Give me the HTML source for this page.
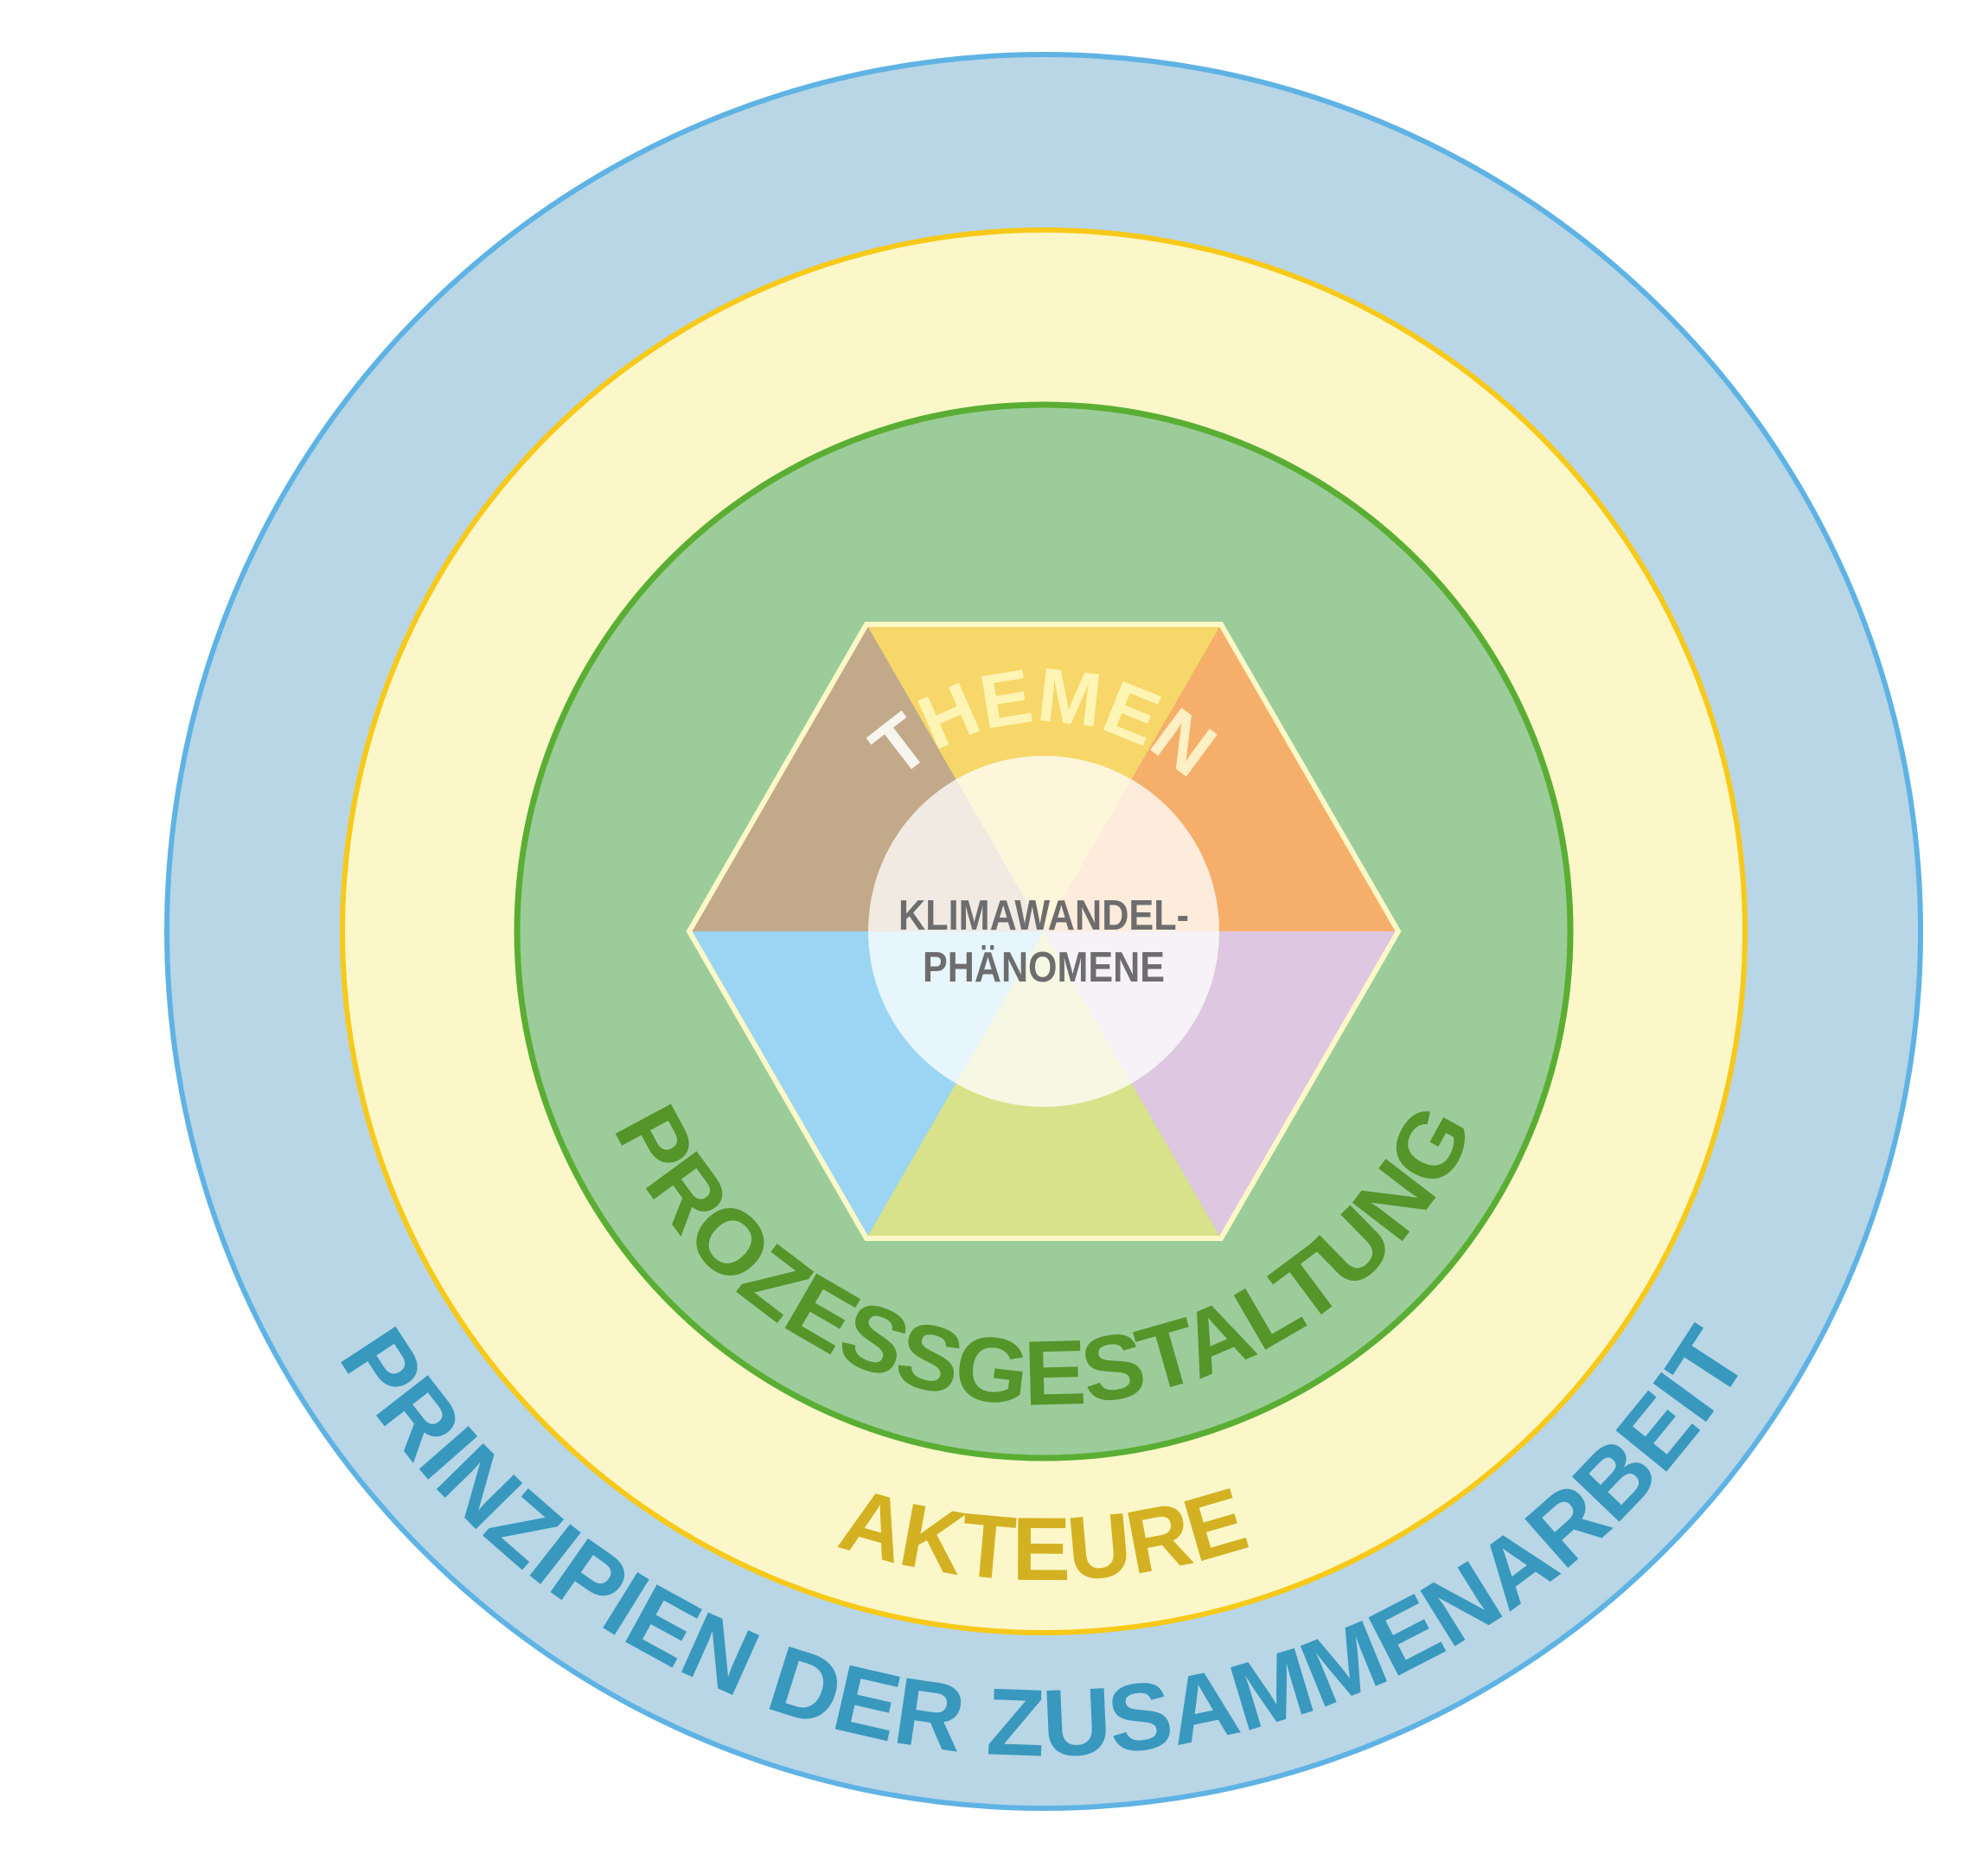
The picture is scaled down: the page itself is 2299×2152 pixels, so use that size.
<!DOCTYPE html>
<html><head><meta charset="utf-8"><style>html,body{margin:0;padding:0;background:#fff}svg{display:block}</style></head>
<body>
<svg width="2299" height="2152" viewBox="0 0 2299 2152" xmlns="http://www.w3.org/2000/svg">
<defs>
<path id="pOuter" d="M 254 1077 A 953 953 0 0 0 2160 1077"/>
<path id="pYellow" d="M 457 1077 A 750 750 0 0 0 1957 1077"/>
<path id="pGreen" d="M 660 1077 A 547 547 0 0 0 1754 1077"/>
<path id="pTop" d="M 965 1077 A 242 242 0 0 1 1449 1077"/>
</defs>
<circle cx="1207" cy="1077" r="1014" fill="#b8d6e6" stroke="#5fb3e4" stroke-width="6"/>
<circle cx="1207" cy="1077" r="811" fill="#fbf7c9" stroke="#f7c919" stroke-width="6"/>
<circle cx="1207" cy="1077" r="609" fill="#9dcc9b" stroke="#5aae33" stroke-width="7"/>
<g>
<polygon points="1207,1077 1002,722 1412,722" fill="#f7d769"/>
<polygon points="1207,1077 1412,722 1617,1077" fill="#f6af6a"/>
<polygon points="1207,1077 1617,1077 1412,1432" fill="#dec7e1"/>
<polygon points="1207,1077 1412,1432 1002,1432" fill="#d8e28a"/>
<polygon points="1207,1077 1002,1432 797,1077" fill="#9bd5f3"/>
<polygon points="1207,1077 797,1077 1002,722" fill="#c1a98a"/>
<polygon points="1002,722 1412,722 1617,1077 1412,1432 1002,1432 797,1077" fill="none" stroke="#fdf9c7" stroke-width="6"/>
</g>
<circle cx="1207" cy="1077" r="203" fill="#ffffff" fill-opacity="0.76"/>
<g font-family="'Liberation Sans', sans-serif" font-weight="bold">
<text x="1207" y="1075" text-anchor="middle" font-size="49" fill="#6d6d6d" textLength="336" lengthAdjust="spacingAndGlyphs">KLIMAWANDEL-</text>
<text x="1207" y="1135" text-anchor="middle" font-size="49" fill="#6d6d6d" textLength="280" lengthAdjust="spacingAndGlyphs">PHÄNOMENE</text>
<text font-size="88" fill="#fef5b4"><textPath href="#pTop" startOffset="50%" text-anchor="middle" textLength="372" lengthAdjust="spacing"><tspan fill="#f8f4ee">T</tspan>HEME<tspan fill="#fdf0c4">N</tspan></textPath></text>
<text font-size="106" fill="#55952a"><textPath href="#pGreen" startOffset="50%" text-anchor="middle" textLength="1250" lengthAdjust="spacingAndGlyphs">PROZESSGESTALTUNG</textPath></text>
<text font-size="104" fill="#d4b122"><textPath href="#pYellow" startOffset="50%" text-anchor="middle" textLength="490" lengthAdjust="spacingAndGlyphs">AKTEURE</textPath></text>
<text font-size="110" fill="#3898be"><textPath href="#pOuter" startOffset="50%" text-anchor="middle" textLength="1960" lengthAdjust="spacingAndGlyphs">PRINZIPIEN DER ZUSAMMENARBEIT</textPath></text>
</g>
</svg>
</body></html>
